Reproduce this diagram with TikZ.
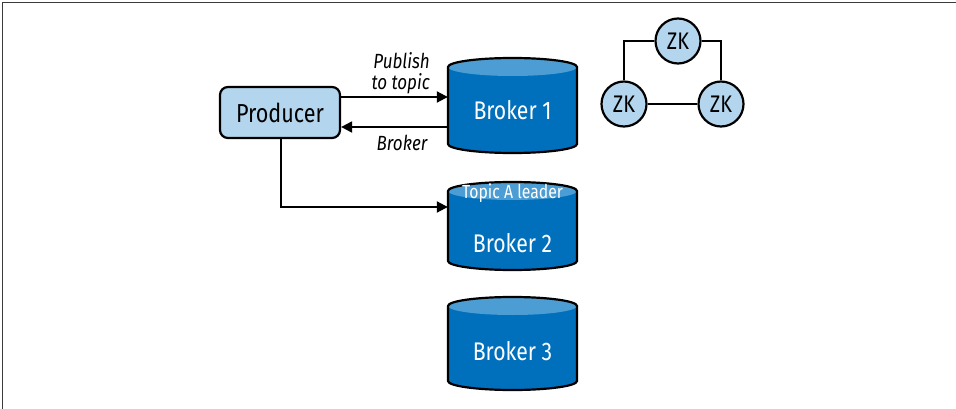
\documentclass[tikz,border=0pt]{standalone}
\usepackage{fontspec}
\setmainfont{Fira Sans}[FakeStretch=0.83]
\usetikzlibrary{arrows.meta}

\definecolor{paleblue}{HTML}{B3D6EE}
\definecolor{drumblue}{HTML}{0070BC}
\definecolor{capblue}{HTML}{4C9DD3}
\definecolor{framegray}{HTML}{3A3A3A}

% broker drum: #1 = centre x, #2 = top y, #3 = bottom y
\newcommand\drumshape[3]{%
  \fill[drumblue] ({#1-64.5},{#2+9}) -- ({#1-64.5},{#3-9})
     arc[start angle=180, end angle=360, x radius=64.5pt, y radius=9pt]
     -- ({#1+64.5},{#2+9})
     arc[start angle=0, end angle=180, x radius=64.5pt, y radius=9pt] -- cycle;
  \fill[capblue] (#1,{#2+9}) ellipse[x radius=64.5pt, y radius=9pt];
  \draw[line width=2.2pt] ({#1-64.5},{#2+9}) -- ({#1-64.5},{#3-9})
     arc[start angle=180, end angle=360, x radius=64.5pt, y radius=9pt]
     -- ({#1+64.5},{#2+9})
     arc[start angle=0, end angle=180, x radius=64.5pt, y radius=9pt] -- cycle;
}

\tikzset{
  prodbox/.style={draw, line width=2.2pt, fill=paleblue, rounded corners=8pt,
    minimum width=120pt, minimum height=51pt, inner sep=0pt,
    font=\fontsize{26}{28}\selectfont},
  drumarea/.style={minimum width=129pt, inner sep=0pt},
  drumtext/.style={text=white, font=\fontsize{25.5}{27}\selectfont, inner sep=0pt},
  captext/.style={text=white, font=\fontsize{19}{21}\selectfont, inner sep=0pt},
  zknode/.style={circle, draw, line width=2.2pt, fill=paleblue, minimum size=45pt,
    inner sep=0pt, font=\fontsize{24}{26}\selectfont},
  flow/.style={line width=2pt, -{Triangle[length=11pt,width=11pt]}},
  link/.style={line width=2pt},
  msg/.style={font=\itshape\fontsize{20.5}{21.5}\selectfont, inner sep=0pt},
}

\begin{document}
\begin{tikzpicture}[x=1pt, y=-1pt]
\useasboundingbox (0,0) rectangle (956,409);

% frame edges
\draw[framegray, line width=1.6pt] (2.5,409) -- (2.5,2.5) -- (956,2.5);

% broker drums
\drumshape{512.5}{58}{153}
\drumshape{512.5}{182}{270}
\drumshape{512.5}{297}{390}

\node[drumarea, minimum height=95pt] (b1) at (512.5,105.5) {};
\node[drumarea, minimum height=88pt] (b2) at (512.5,226) {};
\node[drumarea, minimum height=93pt] (b3) at (512.5,343.5) {};

\node[drumtext] at (512.5,110) {Broker 1};
\node[captext] at (512.5,193) {Topic A leader};
\node[drumtext] at (512.5,243) {Broker 2};
\node[drumtext] at (512.5,351) {Broker 3};

% producer
\node[prodbox] (prod) at (280,112.5) {Producer};

% connectors between producer and brokers
\coordinate (p1) at (prod.east |- 0,97);
\coordinate (p2) at (prod.east |- 0,127);
\draw[flow] (p1) -- (p1 -| b1.west);
\draw[flow] (p2 -| b1.west) -- (p2);
\coordinate (bend) at (281,207);
\draw[flow] (prod.south -| bend) -- (bend) -- (bend -| b2.west);

\node[msg, anchor=east, align=right] at (430,73) {Publish\\to topic};
\node[msg] at (402,143) {Broker};

% ZooKeeper ensemble
\node[zknode] (zk1) at (678,41) {ZK};
\node[zknode] (zk2) at (624,104) {ZK};
\node[zknode] (zk3) at (721,104) {ZK};
\draw[link] (zk1.west) -| (zk2.north);
\draw[link] (zk1.east) -| (zk3.north);
\draw[link] (zk2.east) -- (zk3.west);
\end{tikzpicture}
\end{document}
